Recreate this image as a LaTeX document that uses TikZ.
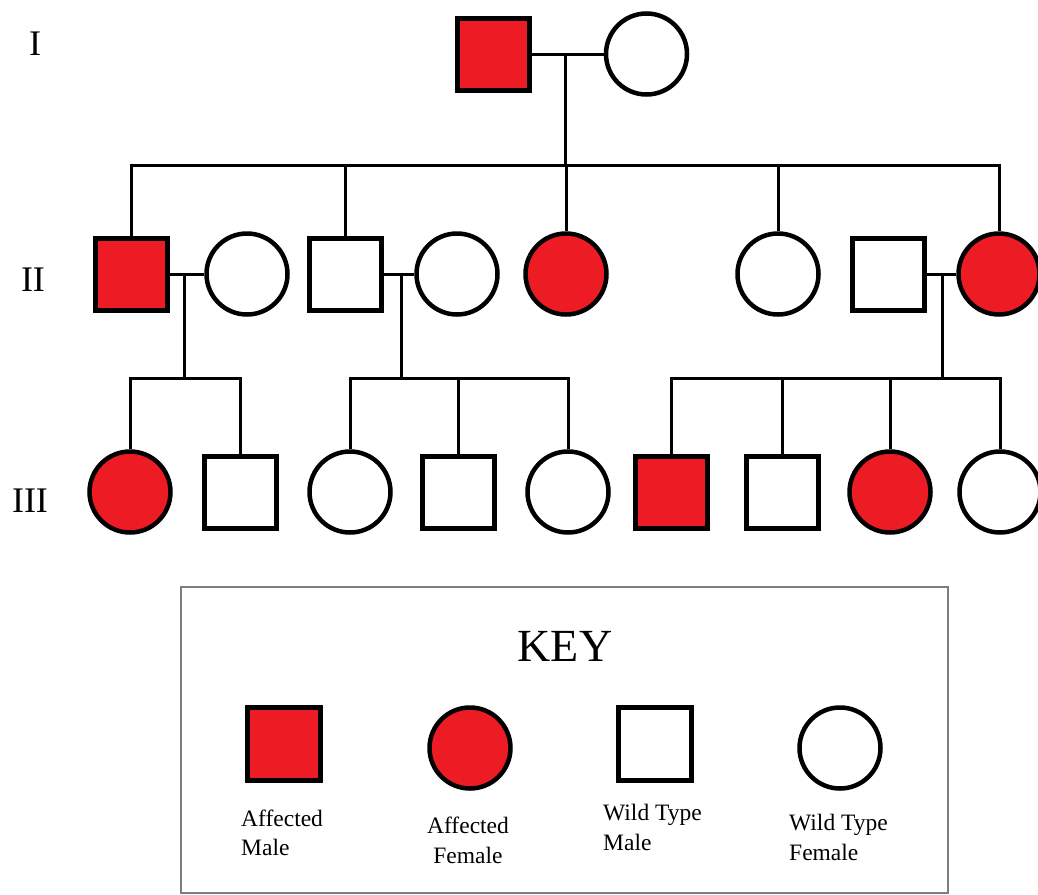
\documentclass[tikz,border=0pt]{standalone}
\usepackage{fontspec}
\setmainfont{Liberation Serif}
\definecolor{affred}{RGB}{237,28,36}
\definecolor{keygray}{RGB}{125,125,125}
\begin{document}
\begin{tikzpicture}[x=1pt,y=-1pt,
  male/.style={draw=black, line width=5pt, rectangle, minimum size=72pt, inner sep=0pt, fill=white},
  female/.style={draw=black, line width=4.5pt, circle, minimum size=81pt, inner sep=0pt, fill=white},
  aff/.style={fill=affred},
  link/.style={line width=3pt, draw=black},
  gen/.style={font=\fontsize{36}{40}\selectfont, inner sep=0pt},
  keylbl/.style={font=\fontsize{23.5}{29.5}\selectfont, inner sep=0pt}]
\useasboundingbox (0,0) rectangle (1038,894);

% generation labels
\node[gen] (gI) at (35,44) {I};
\node[gen] (gII) at (33,280) {II};
\node[gen] (gIII) at (30,501) {III};

% generation I
\node[male, aff] (I1) at (493.5,54) {};
\node[female] (I2) at (646.5,54) {};

% generation II
\node[male, aff] (II1) at (131,274) {};
\node[female] (II2) at (247,274) {};
\node[male] (II3) at (345,274) {};
\node[female] (II4) at (457,274) {};
\node[female, aff] (II5) at (566,274) {};
\node[female] (II6) at (778,274) {};
\node[male] (II7) at (888,274) {};
\node[female, aff] (II8) at (999,274) {};

% generation III
\node[female, aff] (III1) at (130,492) {};
\node[male] (III2) at (240,492) {};
\node[female] (III3) at (350,492) {};
\node[male] (III4) at (458,492) {};
\node[female] (III5) at (568,492) {};
\node[male, aff] (III6) at (671,492) {};
\node[male] (III7) at (782,492) {};
\node[female, aff] (III8) at (890,492) {};
\node[female] (III9) at (1000,492) {};

% coordinates for marriage/sibship lines
\coordinate (m1) at (565,54);
\coordinate (s1) at (565,165);
\coordinate (m2) at (184,274);
\coordinate (s2) at (184,378);
\coordinate (m3) at (401,274);
\coordinate (s3) at (401,378);
\coordinate (m4) at (942,274);
\coordinate (s4) at (942,378);

% generation I family
\draw[link] (I1.east) -- (I2.west);
\draw[link] (m1) -- (s1);
\draw[link] (II1.north) |- (s1) -| (II8.north);
\draw[link] (II3.north) -- (II3.north |- s1);
\draw[link] (II5.north) -- (II5.north |- s1);
\draw[link] (II6.north) -- (II6.north |- s1);

% II1 x II2
\draw[link] (II1.east) -- (II2.west);
\draw[link] (m2) -- (s2);
\draw[link] (III1.north) |- (s2) -| (III2.north);

% II3 x II4
\draw[link] (II3.east) -- (II4.west);
\draw[link] (m3) -- (s3);
\draw[link] (III3.north) |- (s3) -| (III5.north);
\draw[link] (III4.north) -- (III4.north |- s3);

% II7 x II8
\draw[link] (II7.east) -- (II8.west);
\draw[link] (m4) -- (s4);
\draw[link] (III6.north) |- (s4) -| (III9.north);
\draw[link] (III7.north) -- (III7.north |- s4);
\draw[link] (III8.north) -- (III8.north |- s4);

% key
\draw[draw=keygray, line width=2.5pt] (181,587) rectangle (948,893);
\node[font=\fontsize{46}{50}\selectfont, inner sep=0pt] (key) at (565,646) {KEY};
\node[male, aff, minimum size=73pt] (k1) at (284,744) {};
\node[female, aff] (k2) at (470,748) {};
\node[male, minimum size=73pt] (k3) at (655,744) {};
\node[female] (k4) at (840,748) {};
\node[keylbl, align=left, anchor=west] (t1) at (241,833) {Affected\\Male};
\node[keylbl, align=center] (t2) at (468,840.5) {Affected\\Female};
\node[keylbl, align=left, anchor=west] (t3) at (603,827.5) {Wild Type\\Male};
\node[keylbl, align=left, anchor=west] (t4) at (789,837.5) {Wild Type\\Female};
\end{tikzpicture}
\end{document}
